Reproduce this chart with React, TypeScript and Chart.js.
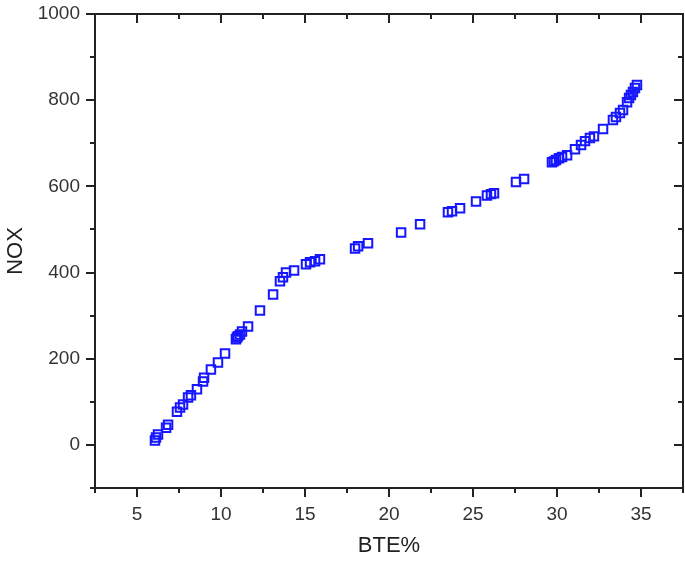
import React, { useEffect, useRef } from "react";
import { Chart, registerables } from "chart.js";

Chart.register(...registerables);

const bteValues: number[] = [
  6.07, 6.13, 6.25, 6.73, 6.85, 7.38, 7.56, 7.74, 8.04, 8.21,
  8.57, 8.93, 8.99, 9.4, 9.82, 10.24, 10.89, 10.95, 11.01, 11.13,
  11.25, 11.61, 12.32, 13.1, 13.51, 13.69, 13.87, 14.35, 15.06, 15.3,
  15.6, 15.89, 17.98, 18.16, 18.75, 20.72, 21.85, 23.51, 23.75, 24.23,
  25.18, 25.83, 26.07, 26.25, 27.56, 28.04, 29.7, 29.82, 29.94, 30.12,
  30.3, 30.6, 31.07, 31.43, 31.67, 31.96, 32.2, 32.74, 33.33, 33.51,
  33.75, 33.93, 34.17, 34.29, 34.4, 34.52, 34.64, 34.76,
];

const noxValues: number[] = [
  10, 17, 24, 40, 47, 77, 87, 94, 110, 115,
  129, 147, 156, 175, 191, 212, 245, 249, 252, 256,
  263, 275, 312, 349, 380, 389, 400, 405, 419, 424,
  426, 431, 456, 461, 468, 493, 512, 540, 542, 549,
  565, 579, 582, 584, 610, 617, 656, 658, 661, 665,
  668, 672, 686, 696, 705, 712, 716, 733, 754, 761,
  770, 777, 795, 805, 812, 819, 828, 835,
];

const xMajorTicks: number[] = [5, 10, 15, 20, 25, 30, 35];
const xMinorTicks: number[] = [2.5, 7.5, 12.5, 17.5, 22.5, 27.5, 32.5, 37.5];
const yMajorTicks: number[] = [0, 200, 400, 600, 800, 1000];
const yMinorTicks: number[] = [-100, 100, 300, 500, 700, 900];

const xTitle = "BTE%";
const yTitle = "NOX";

const AXIS_COLOR = "#222222";
const POINT_COLOR = "rgb(22,22,255)";
const FONT = "'Liberation Sans', Arial, sans-serif";

const frameTicksPlugin = {
  id: "frameTicks",
  afterDraw(chart: any) {
    const ctx = chart.ctx;
    const area = chart.chartArea;
    const xs = chart.scales.x;
    const ys = chart.scales.y;
    ctx.save();
    ctx.strokeStyle = AXIS_COLOR;
    ctx.lineWidth = 2;
    ctx.strokeRect(area.left, area.top, area.right - area.left, area.bottom - area.top);

    const major = 9;
    const minor = 5;
    const drawX = (vals: number[], len: number, lw: number) => {
      ctx.lineWidth = lw;
      vals.forEach((v) => {
        const px = Math.round(xs.getPixelForValue(v));
        ctx.beginPath();
        ctx.moveTo(px, area.bottom);
        ctx.lineTo(px, area.bottom + len);
        ctx.moveTo(px, area.top);
        ctx.lineTo(px, area.top + len);
        ctx.stroke();
      });
    };
    const drawY = (vals: number[], len: number, lw: number) => {
      ctx.lineWidth = lw;
      vals.forEach((v) => {
        const py = Math.round(ys.getPixelForValue(v));
        ctx.beginPath();
        ctx.moveTo(area.left, py);
        ctx.lineTo(area.left - len, py);
        ctx.moveTo(area.right, py);
        ctx.lineTo(area.right - len, py);
        ctx.stroke();
      });
    };
    drawX(xMajorTicks, major, 2);
    drawX(xMinorTicks, minor, 2);
    drawY(yMajorTicks, major, 2);
    drawY(yMinorTicks, minor, 2);
    ctx.restore();
  },
};

export default function App() {
  const canvasRef = useRef<HTMLCanvasElement | null>(null);

  useEffect(() => {
    if (!canvasRef.current) return;
    const points = bteValues.map((x, i) => ({ x, y: noxValues[i] }));
    const chart = new Chart(canvasRef.current, {
      type: "scatter",
      data: {
        datasets: [
          {
            data: points,
            pointStyle: "rect",
            pointRadius: 6,
            pointBorderWidth: 2,
            pointBorderColor: POINT_COLOR,
            pointBackgroundColor: "rgba(255,255,255,0)",
            showLine: false,
          },
        ],
      },
      options: {
        animation: false,
        responsive: true,
        maintainAspectRatio: false,
        layout: { autoPadding: false, padding: { top: 14, right: 2, left: 0, bottom: 0 } },
        plugins: {
          legend: { display: false },
          tooltip: { enabled: false },
        },
        scales: {
          x: {
            type: "linear",
            min: 2.5,
            max: 37.5,
            afterFit: (scale: any) => {
              scale.height = 76;
              scale.paddingLeft = 0;
              scale.paddingRight = 0;
            },
            afterBuildTicks: (scale: any) => {
              scale.ticks = xMajorTicks.map((v) => ({ value: v }));
            },
            grid: { display: false, drawTicks: false },
            border: { display: false },
            ticks: {
              padding: 15,
              color: "#333333",
              callback: (v: any) => String(v),
              font: { family: FONT, size: 19 },
            },
            title: {
              display: true,
              text: xTitle,
              color: "#222222",
              padding: { top: 0, bottom: 5 },
              font: { family: FONT, size: 22 },
            },
          },
          y: {
            type: "linear",
            min: -100,
            max: 1000,
            afterFit: (scale: any) => {
              scale.width = 95;
              scale.paddingTop = 0;
              scale.paddingBottom = 0;
            },
            afterBuildTicks: (scale: any) => {
              scale.ticks = yMajorTicks.map((v) => ({ value: v }));
            },
            grid: { display: false, drawTicks: false },
            border: { display: false },
            ticks: {
              padding: 15,
              color: "#333333",
              callback: (v: any) => String(v),
              font: { family: FONT, size: 19 },
            },
            title: {
              display: true,
              text: yTitle,
              color: "#222222",
              padding: { top: 3, bottom: 0 },
              font: { family: FONT, size: 22 },
            },
          },
        },
      },
      plugins: [frameTicksPlugin],
    });
    return () => chart.destroy();
  }, []);

  return (
    <div style={{ position: "fixed", left: 0, top: 0, width: 685, height: 564, background: "#fff" }}>
      <canvas ref={canvasRef} />
    </div>
  );
}
